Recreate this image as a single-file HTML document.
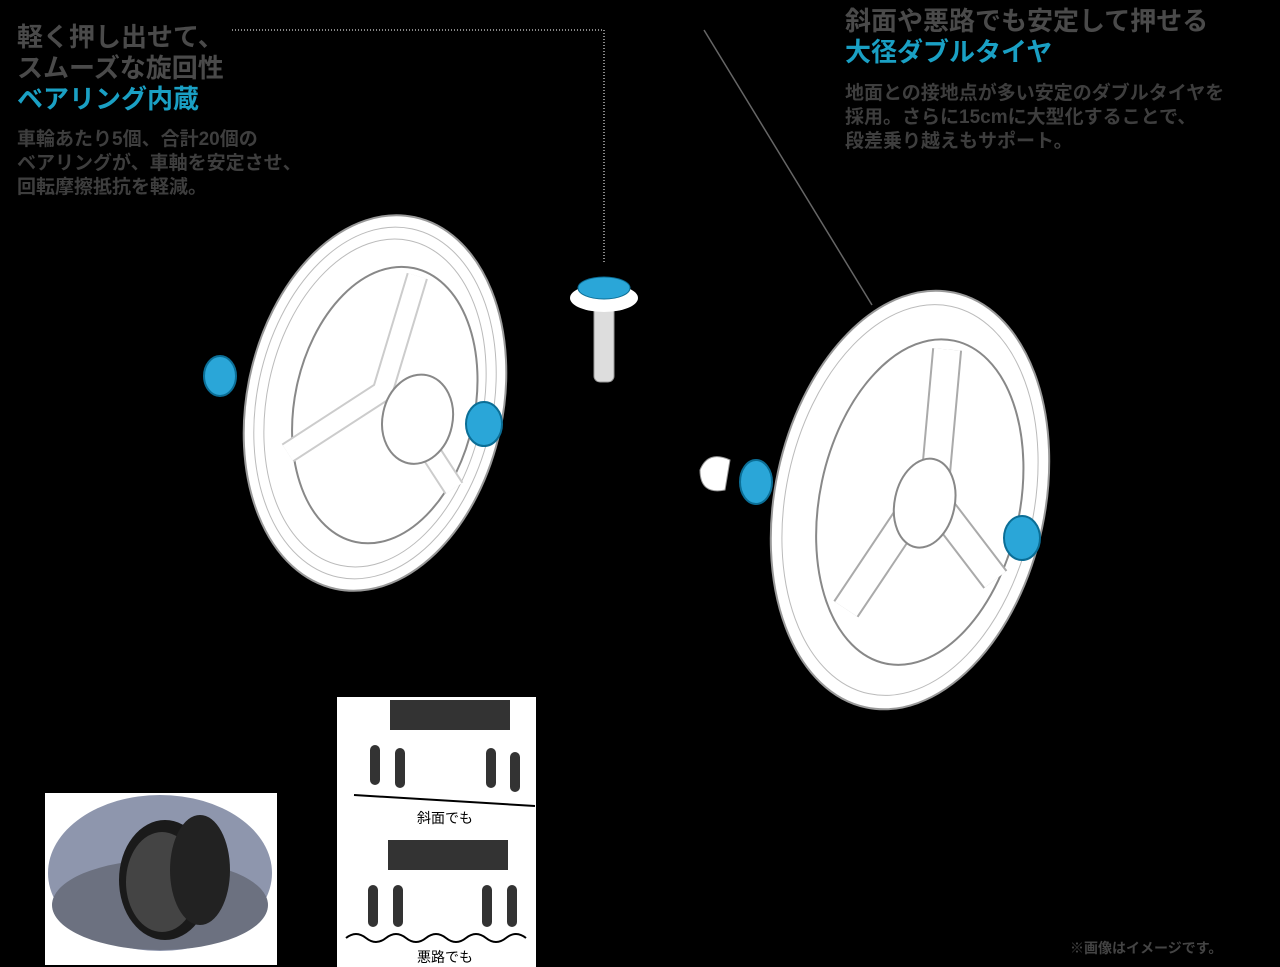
<!DOCTYPE html>
<html><head><meta charset="utf-8"><style>
body{margin:0;background:#000;width:1280px;height:967px;overflow:hidden;position:relative;font-family:"Liberation Sans","Noto Sans CJK JP",sans-serif}
.t{position:absolute;white-space:nowrap}
.h{color:#4a4a4a;font-weight:bold;font-size:26px;line-height:31px}
.c{color:#1aa0c4;font-weight:bold;font-size:26px;line-height:31px}
.b{color:#3e3e3e;font-size:19px;line-height:24px;font-weight:bold}
</style></head><body>
<svg width="1280" height="967" style="position:absolute;left:0;top:0">
<path d="M232 30 H604 V262" fill="none" stroke="#888" stroke-width="2" stroke-dasharray="1 2"/>
<line x1="704" y1="30" x2="872" y2="305" stroke="#666" stroke-width="1.5"/>
<g transform="rotate(12 375 403)">
<ellipse cx="375" cy="403" rx="128" ry="190" fill="#fff" stroke="#999" stroke-width="2"/>
<ellipse cx="375" cy="403" rx="118" ry="178" fill="none" stroke="#bbb"/>
<ellipse cx="375" cy="403" rx="108" ry="166" fill="none" stroke="#bbb"/>
<ellipse cx="385" cy="403" rx="90" ry="140" fill="#fff" stroke="#888" stroke-width="2"/>
<path d="M390 270 L380 390 L300 470 M400 400 L470 470" stroke="#ccc" stroke-width="22" fill="none"/>
<path d="M390 270 L380 390 L300 470 M400 400 L470 470" stroke="#fff" stroke-width="18" fill="none"/>
<ellipse cx="420" cy="410" rx="35" ry="45" fill="#fff" stroke="#888" stroke-width="2"/>
</g>
<g transform="rotate(12 910 500)">
<ellipse cx="910" cy="500" rx="135" ry="212" fill="#fff" stroke="#999" stroke-width="2"/>
<ellipse cx="910" cy="500" rx="124" ry="198" fill="none" stroke="#bbb"/>
<ellipse cx="920" cy="500" rx="100" ry="165" fill="#fff" stroke="#888" stroke-width="2"/>
<path d="M915 345 L930 470 L870 620 M940 500 L1010 560" stroke="#aaa" stroke-width="30" fill="none"/>
<path d="M915 345 L930 470 L870 620 M940 500 L1010 560" stroke="#fff" stroke-width="26" fill="none"/>
<ellipse cx="925" cy="500" rx="30" ry="45" fill="#fff" stroke="#888" stroke-width="2"/>
</g>
<g fill="#2aa6d8" stroke="#0b6e96" stroke-width="2">
<ellipse cx="220" cy="376" rx="16" ry="20"/>
<ellipse cx="484" cy="424" rx="18" ry="22"/>
<ellipse cx="756" cy="482" rx="16" ry="22"/>
<ellipse cx="1022" cy="538" rx="18" ry="22"/>
</g>
<rect x="594" y="300" width="20" height="82" rx="6" fill="#ddd" stroke="#999"/>
<ellipse cx="604" cy="298" rx="34" ry="14" fill="#fff"/>
<ellipse cx="604" cy="288" rx="26" ry="11" fill="#2aa6d8" stroke="#0b6e96"/>
<path d="M700 470 Q708 450 730 460 L725 490 Q700 495 700 470Z" fill="#fff" stroke="#999"/>
<rect x="45" y="793" width="232" height="172" fill="#fff"/>
<ellipse cx="160" cy="873" rx="112" ry="78" fill="#8e96ad"/>
<ellipse cx="160" cy="905" rx="108" ry="45" fill="#6c7180"/>
<ellipse cx="165" cy="880" rx="46" ry="60" fill="#1a1a1a"/>
<ellipse cx="162" cy="882" rx="36" ry="50" fill="#444"/>
<ellipse cx="200" cy="870" rx="30" ry="55" fill="#222"/>
<rect x="337" y="697" width="199" height="270" fill="#fff"/>
<rect x="390" y="700" width="120" height="30" fill="#333"/>
<g fill="#333"><rect x="370" y="745" width="10" height="40" rx="5"/><rect x="395" y="748" width="10" height="40" rx="5"/><rect x="486" y="748" width="10" height="40" rx="5"/><rect x="510" y="752" width="10" height="40" rx="5"/>
<rect x="388" y="840" width="120" height="30" fill="#333"/>
<rect x="368" y="885" width="10" height="42" rx="5"/><rect x="393" y="885" width="10" height="42" rx="5"/><rect x="482" y="885" width="10" height="42" rx="5"/><rect x="507" y="885" width="10" height="42" rx="5"/></g>
<line x1="354" y1="795" x2="535" y2="806" stroke="#000" stroke-width="2"/>
<path d="M346 938 q10 -8 20 0 t20 0 t20 0 t20 0 t20 0 t20 0 t20 0 t20 0 t20 0" stroke="#000" stroke-width="2" fill="none"/>
<text x="445" y="823" font-size="14" text-anchor="middle" font-family="Liberation Sans,Noto Sans CJK JP,sans-serif">斜面でも</text>
<text x="445" y="962" font-size="14" text-anchor="middle" font-family="Liberation Sans,Noto Sans CJK JP,sans-serif">悪路でも</text>
</svg>
<div class="t h" style="left:17px;top:22px">軽く押し出せて、<br>スムーズな旋回性</div>
<div class="t c" style="left:17px;top:84px">ベアリング内蔵</div>
<div class="t b" style="left:17px;top:128px">車輪あたり5個、合計20個の<br>ベアリングが、車軸を安定させ、<br>回転摩擦抵抗を軽減。</div>
<div class="t h" style="left:845px;top:6px">斜面や悪路でも安定して押せる</div>
<div class="t c" style="left:845px;top:37px">大径ダブルタイヤ</div>
<div class="t b" style="left:845px;top:82px">地面との接地点が多い安定のダブルタイヤを<br>採用。さらに15cmに大型化することで、<br>段差乗り越えもサポート。</div>
<div class="t" style="left:1070px;top:938px;color:#444;font-size:14px;font-weight:bold">※画像はイメージです。</div>
</body></html>
